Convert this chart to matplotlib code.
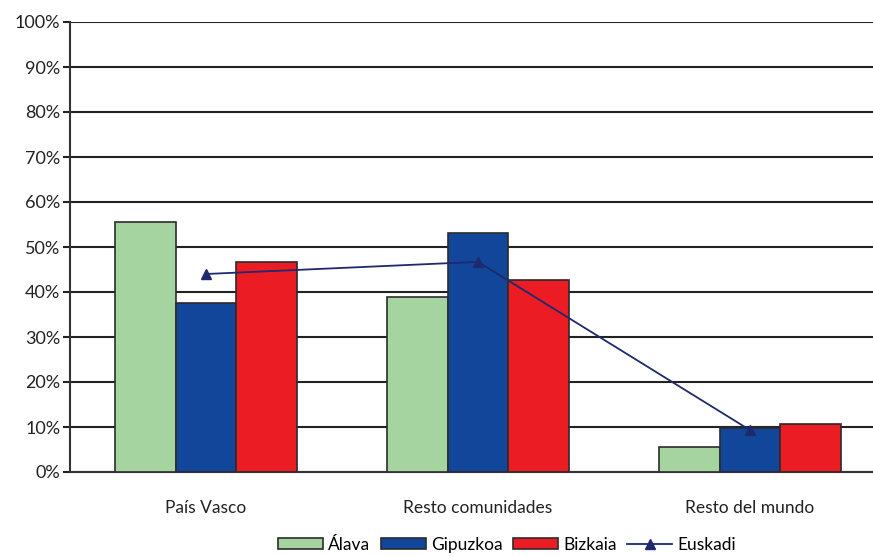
import numpy as np
import matplotlib.pyplot as plt
from matplotlib.ticker import FuncFormatter

plt.rcParams['font.family'] = ['Lato', 'DejaVu Sans']

categories = ['País Vasco', 'Resto comunidades', 'Resto del mundo']
alava = [55.6, 38.9, 5.6]
gipuzkoa = [37.6, 53.1, 9.8]
bizkaia = [46.7, 42.7, 10.7]
euskadi = [44.0, 46.7, 9.3]
y_ticks = list(range(0, 101, 10))

fig = plt.figure(figsize=(8.73, 5.56), dpi=100)
ax = fig.add_axes([70 / 873, 84 / 556, 1 - 70 / 873, 450 / 556])

x = np.arange(len(categories))
w = 0.223
edge = '#2b2b2b'
b1 = ax.bar(x - w, alava, w, color='#a6d4a0', edgecolor=edge, linewidth=1.2, label='Álava', zorder=3)
b2 = ax.bar(x, gipuzkoa, w, color='#11469a', edgecolor=edge, linewidth=1.2, label='Gipuzkoa', zorder=3)
b3 = ax.bar(x + w, bizkaia, w, color='#ec1c24', edgecolor=edge, linewidth=1.2, label='Bizkaia', zorder=3)
l1, = ax.plot(x, euskadi, color='#1f2a6e', linewidth=1.3, marker='^', markersize=7,
              label='Euskadi', zorder=4)

ax.set_xlim(-0.5, 2.452)
ax.set_ylim(0, 100)
ax.set_yticks(y_ticks)
ax.yaxis.set_major_formatter(FuncFormatter(lambda v, p: '%d%%' % v))
ax.yaxis.grid(True, color='#222222', linewidth=1.5, zorder=0)
ax.set_axisbelow(True)
ax.set_xticks(x)
ax.set_xticklabels(categories)
ax.tick_params(axis='x', length=0, pad=20, labelsize=12.5, colors='#222222')
ax.tick_params(axis='y', length=5, width=1.5, pad=2, labelsize=13, colors='#222222')
for s in ['top', 'right']:
    ax.spines[s].set_visible(False)
for s in ['left', 'bottom']:
    ax.spines[s].set_color('#333333')
    ax.spines[s].set_linewidth(1.5)

fig.legend([b1, b2, b3, l1], ['Álava', 'Gipuzkoa', 'Bizkaia', 'Euskadi'],
           loc='center', bbox_to_anchor=(507 / 873, 1 - 545 / 556), ncol=4, frameon=False,
           fontsize=12.5, handlelength=2.6, handleheight=0.6, handletextpad=0.3,
           columnspacing=0.6, borderaxespad=0)

fig.savefig('out.png', dpi=100)
